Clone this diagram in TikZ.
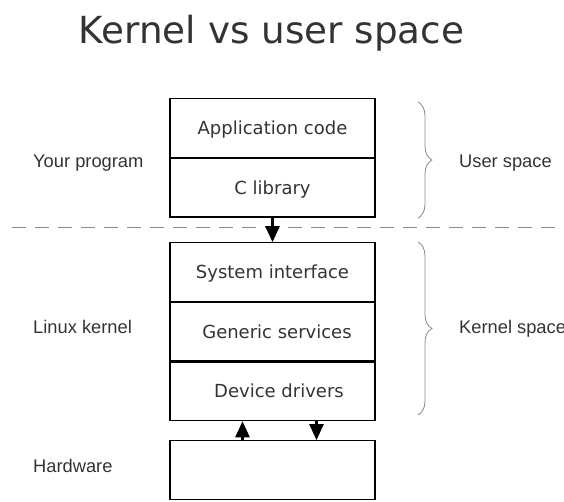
\documentclass[tikz,border=0pt]{standalone}
\usepackage{fontspec}
\setmainfont{DejaVu Sans}
\newfontfamily\sidefont{Liberation Sans}
\usetikzlibrary{positioning, arrows.meta, decorations.pathreplacing}

\definecolor{txtgray}{HTML}{333333}
\definecolor{linegray}{HTML}{8A8A8A}

\tikzset{
  layer/.style = {draw, line width=1.2pt, minimum width=205pt, minimum height=58.5pt,
                  inner sep=0pt, text height=14pt, text depth=1pt,
                  font=\fontsize{18}{20}\selectfont, text=txtgray},
  side/.style = {anchor=base west, inner sep=0pt, font=\sidefont\fontsize{18.3}{20}\selectfont, text=txtgray},
  flow/.style = {line width=2.4pt, -{Triangle[length=16pt, width=14pt]}},
  curly/.style = {decorate, decoration={brace, amplitude=14pt}, draw=linegray, line width=0.8pt}
}

\begin{document}
\begin{tikzpicture}[x=1pt, y=-1pt, node distance = 0pt]
  \useasboundingbox (0,0) rectangle (564,501);

  \node[anchor=base, text=txtgray, font=\fontsize{37.3}{40}\selectfont] (title) at (271.5,43) {Kernel vs user space};

  % user side
  \node[layer] (app) at (272.5,128) {Application code};
  \node[layer] (clib) [below = of app] {C library};

  % kernel side
  \node[layer] (sysif) at (272.5,272) {System interface};
  \node[layer] (gensrv) [below = of sysif] {\hspace{9pt}Generic services};
  \node[layer] (devdrv) [below = of gensrv] {\hspace{13pt}Device drivers};

  \node[layer] (hw) at (272.5,470) {};

  % user/kernel border
  \coordinate (borderL) at (12,227);
  \coordinate (borderR) at (564,227);
  \draw[linegray, line width=0.8pt, dash pattern=on 14pt off 9pt] (borderL) -- (borderR);

  \draw[flow] (clib.south) -- (sysif.north);
  \draw[flow] ([xshift=-30pt]hw.north) -- ([xshift=-30pt]devdrv.south);
  \draw[flow] ([xshift=44pt]devdrv.south) -- ([xshift=44pt]hw.north);

  \node[side] (lblprog) at (33,167) {Your program};
  \node[side] (lblkernel) at (33,333) {Linux kernel};
  \node[side] (lblhw) at (33,472) {Hardware};

  \coordinate (ubraceT) at (418,102);
  \coordinate (ubraceB) at (418,218);
  \coordinate (kbraceT) at (418,242);
  \coordinate (kbraceB) at (418,415);
  \path[curly] (ubraceT) -- (ubraceB);
  \path[curly] (kbraceT) -- (kbraceB);

  \node[side] (lbluser) at (459,167) {User space};
  \node[side] (lblkspace) at (459,333) {Kernel space};
\end{tikzpicture}
\end{document}
